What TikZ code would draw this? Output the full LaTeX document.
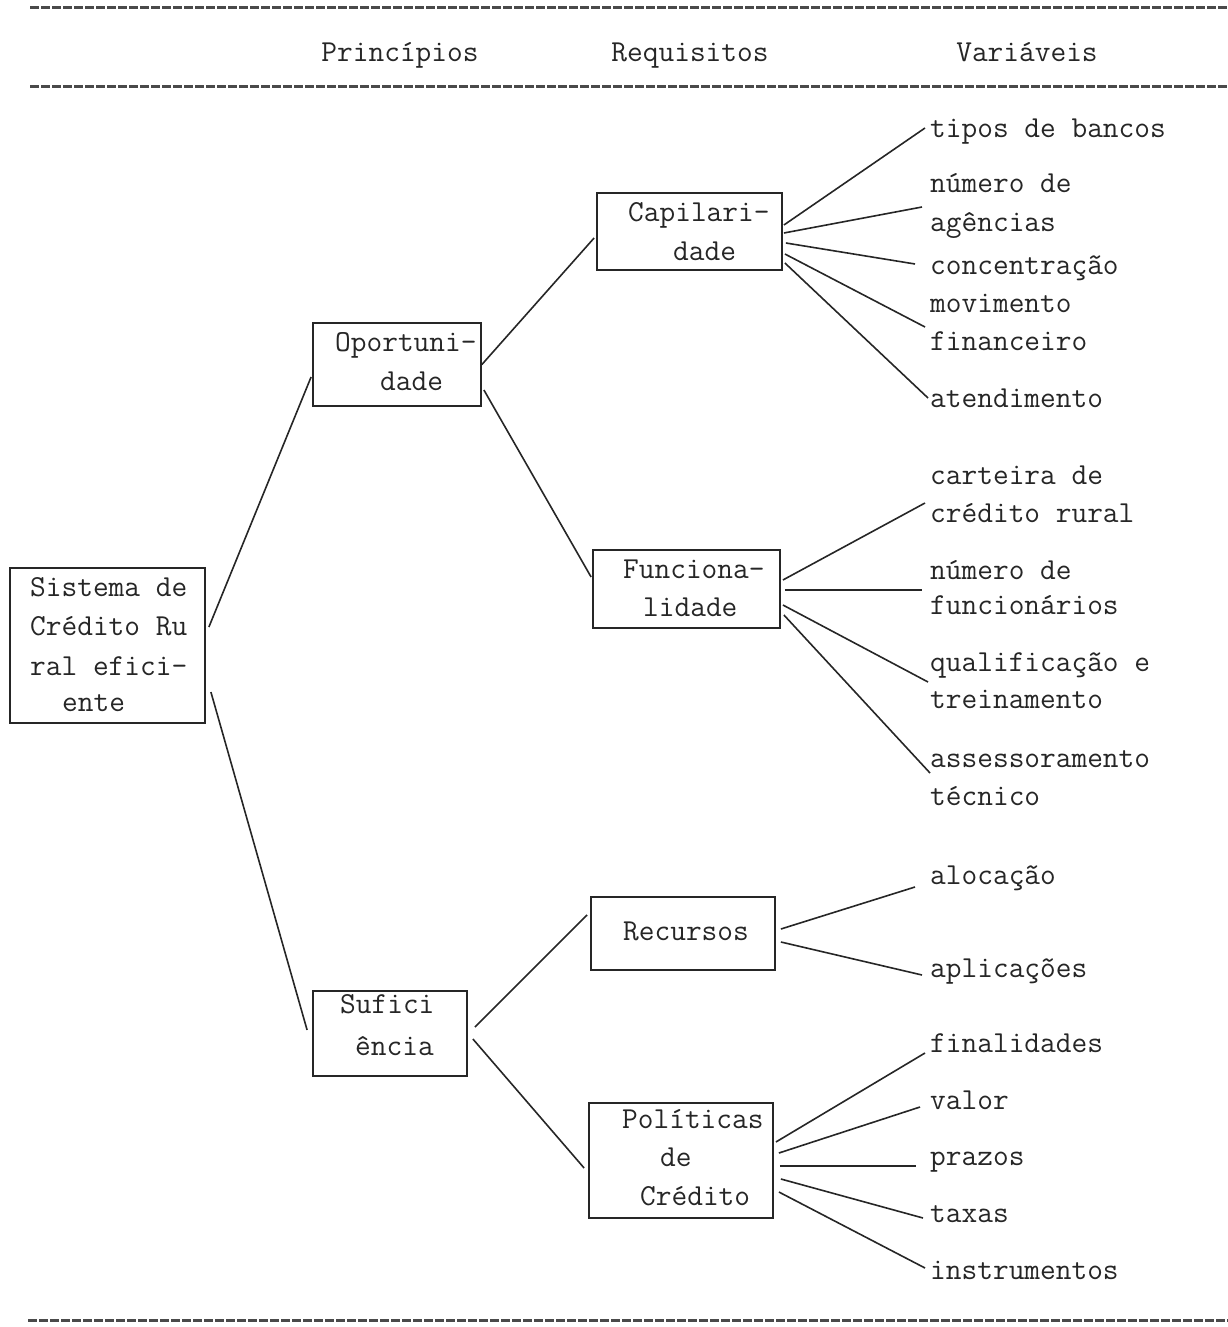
\documentclass[tikz,border=0pt]{standalone}
\usepackage{fontspec}
\definecolor{ink}{HTML}{262626}
\definecolor{rule}{HTML}{4A4A4A}
\tikzset{
  box/.style={draw=ink, line width=1.8pt, inner sep=0pt},
  txt/.style={font=\ttfamily\fontsize{30.5}{37}\selectfont, inner sep=0pt, anchor=base west, text=ink},
  head/.style={font=\ttfamily\fontsize{30.5}{37}\selectfont, inner sep=0pt, anchor=base, text=ink},
  conn/.style={draw=ink, line width=1.6pt},
  typedrule/.style={draw=rule, line width=3pt, dash pattern=on 9pt off 2pt}
}
\begin{document}
\begin{tikzpicture}[x=1pt,y=-1pt]
\useasboundingbox (0,0) rectangle (1228,1327);
% rules
\draw[typedrule] (30,8) -- (1228,8);
\draw[typedrule] (30,87) -- (1228,87);
\draw[typedrule] (28,1320) -- (1228,1320);
% headers
\node[head] (hP) at (400,62) {Princípios};
\node[head] (hR) at (690,62) {Requisitos};
\node[head] (hV) at (1027,62) {Variáveis};
% boxes
\node[box, minimum width=195pt, minimum height=155pt] (sis) at (107.5,645.5) {};
\node[box, minimum width=168pt, minimum height=83pt] (opo) at (397,364.5) {};
\node[box, minimum width=185pt, minimum height=77pt] (cap) at (689.5,231.5) {};
\node[box, minimum width=187pt, minimum height=78pt] (fun) at (686.5,589) {};
\node[box, minimum width=154pt, minimum height=85pt] (suf) at (390,1033.5) {};
\node[box, minimum width=184pt, minimum height=73pt] (rec) at (683,933.5) {};
\node[box, minimum width=184pt, minimum height=115pt] (pol) at (681,1160.5) {};
% box texts
\node[txt] (sis1) at (30,596) {Sistema de};
\node[txt] (sis2) at (30,635) {Crédito Ru};
\node[txt] (sis3) at (30,675) {ral efici-};
\node[txt] (sis4) at (62,711) {ente};
\node[txt] (opo1) at (335,351) {Oportuni-};
\node[txt] (opo2) at (380,390) {dade};
\node[txt] (cap1) at (628,221) {Capilari-};
\node[txt] (cap2) at (673,260) {dade};
\node[txt] (fun1) at (623,578) {Funciona-};
\node[txt] (fun2) at (643,616) {lidade};
\node[txt] (suf1) at (340,1013) {Sufici};
\node[txt] (suf2) at (355,1055) {ência};
\node[txt] (rec1) at (623,940) {Recursos};
\node[txt] (pol1) at (622,1128) {Políticas};
\node[txt] (pol2) at (660,1166) {de};
\node[txt] (pol3) at (640,1205) {Crédito};
% variable labels
\node[txt] (v1) at (930,138) {tipos de bancos};
\node[txt] (v2a) at (930,192) {número de};
\node[txt] (v2b) at (930,231) {agências};
\node[txt] (v3) at (930,274) {concentração};
\node[txt] (v4a) at (930,312) {movimento};
\node[txt] (v4b) at (930,350) {financeiro};
\node[txt] (v5) at (930,407) {atendimento};
\node[txt] (v6a) at (930,484) {carteira de};
\node[txt] (v6b) at (930,522) {crédito rural};
\node[txt] (v7a) at (930,579) {número de};
\node[txt] (v7b) at (930,614) {funcionários};
\node[txt] (v8a) at (930,671) {qualificação e};
\node[txt] (v8b) at (930,708) {treinamento};
\node[txt] (v9a) at (930,767) {assessoramento};
\node[txt] (v9b) at (930,805) {técnico};
\node[txt] (v10) at (930,884) {alocação};
\node[txt] (v11) at (930,977) {aplicações};
\node[txt] (v12) at (930,1052) {finalidades};
\node[txt] (v13) at (930,1109) {valor};
\node[txt] (v14) at (930,1165) {prazos};
\node[txt] (v15) at (930,1222) {taxas};
\node[txt] (v16) at (930,1279) {instrumentos};
% connectors: level 1
\draw[conn] ([xshift=3pt,yshift=18.5pt]sis.east) -- ([xshift=-1pt,yshift=-12.5pt]opo.west);
\draw[conn] ([xshift=5pt,yshift=-46.5pt]sis.east) -- ([xshift=-5pt,yshift=3.5pt]suf.west);
% level 2
\draw[conn] ([xshift=0pt]opo.east) -- ([xshift=-2pt,yshift=-6.5pt]cap.west);
\draw[conn] ([xshift=2pt,yshift=-25.5pt]opo.east) -- ([xshift=-1pt,yshift=12pt]fun.west);
\draw[conn] ([xshift=7pt,yshift=6.5pt]suf.east) -- ([xshift=-3pt,yshift=18.5pt]rec.west);
\draw[conn] ([xshift=5pt,yshift=-5.5pt]suf.east) -- ([xshift=-4pt,yshift=-7.5pt]pol.west);
% level 3: Capilaridade
\draw[conn] ([xshift=1pt,yshift=6.5pt]cap.east) -- ([xshift=-5pt,yshift=10pt]v1.base west);
\draw[conn] ([xshift=1pt,yshift=-1.5pt]cap.east) -- ([xshift=-8pt,yshift=-15pt]v2a.base west);
\draw[conn] ([xshift=3pt,yshift=-11.5pt]cap.east) -- ([xshift=-15pt,yshift=10pt]v3.base west);
\draw[conn] ([xshift=2pt,yshift=-22.5pt]cap.east) -- ([xshift=-5pt,yshift=-15pt]v4a.base west);
\draw[conn] ([xshift=2pt,yshift=-31.5pt]cap.east) -- ([xshift=-2pt,yshift=9pt]v5.base west);
% Funcionalidade
\draw[conn] ([xshift=2pt,yshift=9pt]fun.east) -- ([xshift=-5pt,yshift=19pt]v6b.base west);
\draw[conn] ([xshift=4pt,yshift=-1pt]fun.east) -- ([xshift=-8pt,yshift=-11pt]v7a.base west);
\draw[conn] ([xshift=2pt,yshift=-16pt]fun.east) -- ([xshift=-2pt,yshift=-11pt]v8a.base west);
\draw[conn] ([xshift=3pt,yshift=-26pt]fun.east) -- ([xshift=0pt,yshift=-6pt]v9a.base west);
% Recursos
\draw[conn] ([xshift=5pt,yshift=4.5pt]rec.east) -- ([xshift=-15pt,yshift=-3pt]v10.base west);
\draw[conn] ([xshift=5pt,yshift=-8.5pt]rec.east) -- ([xshift=-8pt,yshift=2pt]v11.base west);
% Politicas
\draw[conn] ([xshift=2pt,yshift=18.5pt]pol.east) -- ([xshift=-5pt,yshift=-1pt]v12.base west);
\draw[conn] ([xshift=5pt,yshift=7.5pt]pol.east) -- ([xshift=-10pt,yshift=2pt]v13.base west);
\draw[conn] ([xshift=6pt,yshift=-5.5pt]pol.east) -- ([xshift=-14pt,yshift=-1pt]v14.base west);
\draw[conn] ([xshift=7pt,yshift=-18.5pt]pol.east) -- ([xshift=-7pt,yshift=4pt]v15.base west);
\draw[conn] ([xshift=5pt,yshift=-31.5pt]pol.east) -- ([xshift=-5pt,yshift=11pt]v16.base west);
\end{tikzpicture}
\end{document}
